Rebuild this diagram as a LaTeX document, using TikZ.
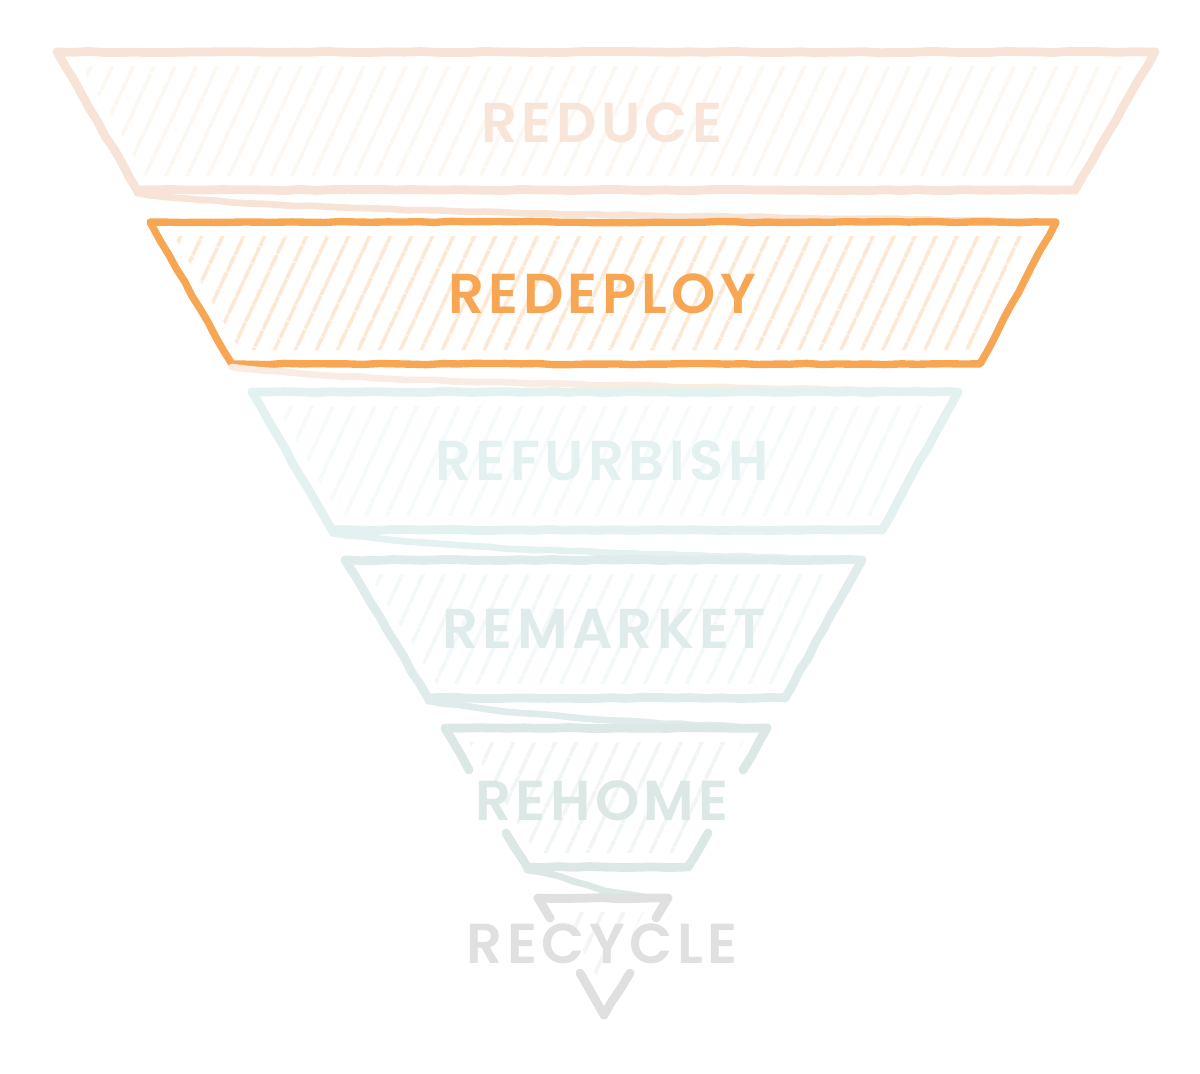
\documentclass[tikz,border=0pt]{standalone}
\usepackage{fontspec}
\setmainfont{Poppins}[BoldFont={Poppins SemiBold}]
\usepackage{tikz}
\usetikzlibrary{
  patterns.meta,
  decorations.pathmorphing
}
\definecolor{peach}{HTML}{F7E4D6}
\definecolor{peachtext}{HTML}{F8E5D8}
\definecolor{peachhatch}{HTML}{FDF7F2}
\definecolor{deploy}{HTML}{F7A753}
\definecolor{deployhatch}{HTML}{FDE8D4}
\definecolor{tealA}{HTML}{E4F1F1}
\definecolor{tealAhatch}{HTML}{F5FAFA}
\definecolor{tealB}{HTML}{E0ECEB}
\definecolor{tealBhatch}{HTML}{F3F8F8}
\definecolor{tealC}{HTML}{DCE8E6}
\definecolor{tealChatch}{HTML}{F1F6F5}
\definecolor{greyD}{HTML}{E0E0E0}
\definecolor{greyDhatch}{HTML}{F4F4F4}
\tikzset{
  edge/.style={
    draw=#1, line width=5pt, line join=round, line cap=round,
    decorate, decoration={random steps, segment length=9pt, amplitude=0.4pt}
  },
  link/.style={
    draw=#1, line width=3.8pt, line cap=round,
    decorate, decoration={random steps, segment length=9pt, amplitude=0.4pt}
  },
  hatch/.style={
    pattern={Lines[angle=65, distance=10.5pt, line width=2.3pt]},
    pattern color=#1
  },
  tier/.style={
    inner sep=0pt, text depth=0pt,
    font=\fontsize{32}{32}\selectfont\bfseries\addfontfeature{LetterSpace=8}
  },
}

\begin{document}
\begin{tikzpicture}[x=0.02cm, y=-0.02cm]
  \useasboundingbox (0,0) rectangle (1200,1073);

  % reduce
  \fill[hatch=peachhatch] (81,66) -- (1131,66) -- (1067,176) -- (145,176) -- cycle;
  \draw[edge=peach] (57,52) -- (1155,52) -- (1075,190) -- (137,190) -- cycle;
  \coordinate (reduce-bl) at (137,193);
  \node[tier, text=peachtext] (reduce) at (602,123) {REDUCE};

  % redeploy
  \fill[hatch=deployhatch] (174,236) -- (1032,236) -- (972,350) -- (240,350) -- cycle;
  \coordinate (redeploy-tr) at (1056,222);
  \coordinate (redeploy-bl) at (232,367);
  \draw[link=peach] (reduce-bl) .. controls +(150,22) and +(-300,-6) .. (redeploy-tr);
  \draw[edge=deploy, line width=4.2pt] (150,222) -- (1056,222) -- (980,364) -- (232,364) -- cycle;
  \node[tier, text=deploy] (redeploy) at (602,294) {REDEPLOY};

  % refurbish
  \fill[hatch=tealAhatch] (276,406) -- (934,406) -- (874,516) -- (340,516) -- cycle;
  \coordinate (refurbish-tr) at (958,392);
  \coordinate (refurbish-bl) at (332,533);
  \draw[link=peach!70] (redeploy-bl) .. controls +(150,18) and +(-250,-6) .. (refurbish-tr);
  \draw[edge=tealA] (252,392) -- (958,392) -- (882,530) -- (332,530) -- cycle;
  \node[tier, text=tealA] (refurbish) at (602,461) {REFURBISH};

  % remarket
  \fill[hatch=tealBhatch] (369,574) -- (838,574) -- (777,684) -- (436,684) -- cycle;
  \coordinate (remarket-tr) at (862,560);
  \coordinate (remarket-bl) at (428,701);
  \draw[link=tealA] (refurbish-bl) .. controls +(120,18) and +(-200,-6) .. (remarket-tr);
  \draw[edge=tealB] (345,560) -- (862,560) -- (785,698) -- (428,698) -- cycle;
  \node[tier, text=tealB] (remarket) at (604,629) {REMARKET};

  % rehome
  \fill[hatch=tealChatch] (469,742) -- (743,742) -- (680,853) -- (535,853) -- cycle;
  \coordinate (rehome-tr) at (767,728);
  \coordinate (rehome-bl) at (527,870);
  \draw[link=tealB] (remarket-bl) .. controls +(90,14) and +(-150,-6) .. (rehome-tr);
  \draw[edge=tealC] (469,770) -- (445,728) -- (767,728) -- (743,770);
  \draw[edge=tealC] (506,833) -- (527,867) -- (688,867) -- (708,833);
  \node[tier, text=tealC] (rehome) at (602,801) {REHOME};

  % recycle
  \fill[hatch=greyDhatch] (562,912) -- (644,912) -- (604,990) -- cycle;
  \coordinate (recycle-tr) at (668,898);
  \draw[link=tealC] (rehome-bl) .. controls +(60,10) and +(-80,-4) .. (recycle-tr);
  \draw[edge=greyD] (550,918) -- (538,898) -- (668,898) -- (656,918);
  \draw[edge=greyD] (580,973) -- (604,1015) -- (630,973);
  \node[tier, text=greyD] (recycle) at (602,944) {RECYCLE};
\end{tikzpicture}
\end{document}
